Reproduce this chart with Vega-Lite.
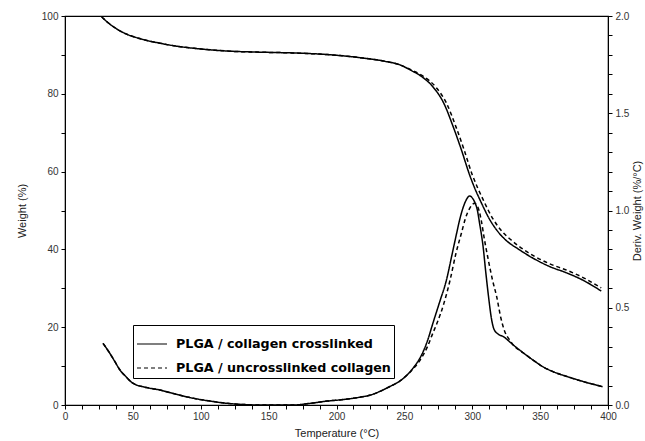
{
  "$schema": "https://vega.github.io/schema/vega-lite/v6.json",
  "width": 543,
  "height": 389,
  "autosize": {"type": "none"},
  "padding": {"left": 65, "top": 16, "right": 37, "bottom": 36},
  "background": "white",
  "config": {
    "view": {"stroke": "black", "strokeWidth": 1.2},
    "axis": {
      "grid": false,
      "domainColor": "black",
      "tickColor": "black",
      "labelFont": "Liberation Sans",
      "labelFontSize": 10,
      "labelColor": "#333",
      "titleFont": "Liberation Sans",
      "titleFontSize": 11,
      "titleFontWeight": "normal",
      "titleColor": "#222",
      "tickSize": 4
    }
  },
  "datasets": {
    "weight": [
      {"series": "PLGA / collagen crosslinked", "T": 27, "W": 99.8},
      {"series": "PLGA / collagen crosslinked", "T": 32, "W": 98.2},
      {"series": "PLGA / collagen crosslinked", "T": 38, "W": 96.7},
      {"series": "PLGA / collagen crosslinked", "T": 45, "W": 95.4},
      {"series": "PLGA / collagen crosslinked", "T": 55, "W": 94.2},
      {"series": "PLGA / collagen crosslinked", "T": 70, "W": 93.0},
      {"series": "PLGA / collagen crosslinked", "T": 85, "W": 92.1},
      {"series": "PLGA / collagen crosslinked", "T": 95, "W": 91.7},
      {"series": "PLGA / collagen crosslinked", "T": 119, "W": 91.0},
      {"series": "PLGA / collagen crosslinked", "T": 144, "W": 90.7},
      {"series": "PLGA / collagen crosslinked", "T": 168, "W": 90.5},
      {"series": "PLGA / collagen crosslinked", "T": 193, "W": 90.1},
      {"series": "PLGA / collagen crosslinked", "T": 217, "W": 89.3},
      {"series": "PLGA / collagen crosslinked", "T": 235, "W": 88.4},
      {"series": "PLGA / collagen crosslinked", "T": 247, "W": 87.4},
      {"series": "PLGA / collagen crosslinked", "T": 255, "W": 86.0},
      {"series": "PLGA / collagen crosslinked", "T": 262, "W": 84.6},
      {"series": "PLGA / collagen crosslinked", "T": 271, "W": 81.8},
      {"series": "PLGA / collagen crosslinked", "T": 279, "W": 77.6},
      {"series": "PLGA / collagen crosslinked", "T": 286, "W": 71.5},
      {"series": "PLGA / collagen crosslinked", "T": 292, "W": 65.6},
      {"series": "PLGA / collagen crosslinked", "T": 298, "W": 59.2},
      {"series": "PLGA / collagen crosslinked", "T": 302, "W": 55.6},
      {"series": "PLGA / collagen crosslinked", "T": 306, "W": 52.5},
      {"series": "PLGA / collagen crosslinked", "T": 313, "W": 47.6},
      {"series": "PLGA / collagen crosslinked", "T": 320, "W": 44.1},
      {"series": "PLGA / collagen crosslinked", "T": 326, "W": 42.0},
      {"series": "PLGA / collagen crosslinked", "T": 333, "W": 40.3},
      {"series": "PLGA / collagen crosslinked", "T": 345, "W": 37.7},
      {"series": "PLGA / collagen crosslinked", "T": 357, "W": 35.6},
      {"series": "PLGA / collagen crosslinked", "T": 370, "W": 33.9},
      {"series": "PLGA / collagen crosslinked", "T": 382, "W": 32.0},
      {"series": "PLGA / collagen crosslinked", "T": 395, "W": 29.3},
      {"series": "PLGA / uncrosslinked collagen", "T": 27, "W": 99.8},
      {"series": "PLGA / uncrosslinked collagen", "T": 32, "W": 98.2},
      {"series": "PLGA / uncrosslinked collagen", "T": 38, "W": 96.7},
      {"series": "PLGA / uncrosslinked collagen", "T": 45, "W": 95.4},
      {"series": "PLGA / uncrosslinked collagen", "T": 55, "W": 94.2},
      {"series": "PLGA / uncrosslinked collagen", "T": 70, "W": 93.0},
      {"series": "PLGA / uncrosslinked collagen", "T": 85, "W": 92.1},
      {"series": "PLGA / uncrosslinked collagen", "T": 95, "W": 91.7},
      {"series": "PLGA / uncrosslinked collagen", "T": 119, "W": 91.0},
      {"series": "PLGA / uncrosslinked collagen", "T": 144, "W": 90.7},
      {"series": "PLGA / uncrosslinked collagen", "T": 168, "W": 90.5},
      {"series": "PLGA / uncrosslinked collagen", "T": 193, "W": 90.1},
      {"series": "PLGA / uncrosslinked collagen", "T": 217, "W": 89.3},
      {"series": "PLGA / uncrosslinked collagen", "T": 235, "W": 88.4},
      {"series": "PLGA / uncrosslinked collagen", "T": 247, "W": 87.4},
      {"series": "PLGA / uncrosslinked collagen", "T": 256, "W": 86.0},
      {"series": "PLGA / uncrosslinked collagen", "T": 263.5, "W": 84.6},
      {"series": "PLGA / uncrosslinked collagen", "T": 273, "W": 81.8},
      {"series": "PLGA / uncrosslinked collagen", "T": 281, "W": 77.6},
      {"series": "PLGA / uncrosslinked collagen", "T": 288, "W": 71.5},
      {"series": "PLGA / uncrosslinked collagen", "T": 294, "W": 65.6},
      {"series": "PLGA / uncrosslinked collagen", "T": 300, "W": 59.2},
      {"series": "PLGA / uncrosslinked collagen", "T": 304, "W": 55.8},
      {"series": "PLGA / uncrosslinked collagen", "T": 308, "W": 52.8},
      {"series": "PLGA / uncrosslinked collagen", "T": 315, "W": 48.0},
      {"series": "PLGA / uncrosslinked collagen", "T": 322, "W": 44.6},
      {"series": "PLGA / uncrosslinked collagen", "T": 328, "W": 42.6},
      {"series": "PLGA / uncrosslinked collagen", "T": 334, "W": 40.9},
      {"series": "PLGA / uncrosslinked collagen", "T": 345, "W": 38.4},
      {"series": "PLGA / uncrosslinked collagen", "T": 357, "W": 36.3},
      {"series": "PLGA / uncrosslinked collagen", "T": 370, "W": 34.6},
      {"series": "PLGA / uncrosslinked collagen", "T": 382, "W": 32.7},
      {"series": "PLGA / uncrosslinked collagen", "T": 395, "W": 30.1}
    ],
    "deriv": [
      {"series": "PLGA / collagen crosslinked", "T": 28, "D": 0.317},
      {"series": "PLGA / collagen crosslinked", "T": 33, "D": 0.266},
      {"series": "PLGA / collagen crosslinked", "T": 37, "D": 0.22},
      {"series": "PLGA / collagen crosslinked", "T": 40.5, "D": 0.18},
      {"series": "PLGA / collagen crosslinked", "T": 45, "D": 0.145},
      {"series": "PLGA / collagen crosslinked", "T": 50, "D": 0.112},
      {"series": "PLGA / collagen crosslinked", "T": 60, "D": 0.09},
      {"series": "PLGA / collagen crosslinked", "T": 70, "D": 0.077},
      {"series": "PLGA / collagen crosslinked", "T": 82, "D": 0.055},
      {"series": "PLGA / collagen crosslinked", "T": 95, "D": 0.034},
      {"series": "PLGA / collagen crosslinked", "T": 107, "D": 0.02},
      {"series": "PLGA / collagen crosslinked", "T": 119, "D": 0.009},
      {"series": "PLGA / collagen crosslinked", "T": 130, "D": 0.003},
      {"series": "PLGA / collagen crosslinked", "T": 144, "D": 0.0},
      {"series": "PLGA / collagen crosslinked", "T": 168, "D": 0.0},
      {"series": "PLGA / collagen crosslinked", "T": 180, "D": 0.008},
      {"series": "PLGA / collagen crosslinked", "T": 193, "D": 0.02},
      {"series": "PLGA / collagen crosslinked", "T": 205, "D": 0.028},
      {"series": "PLGA / collagen crosslinked", "T": 217, "D": 0.04},
      {"series": "PLGA / collagen crosslinked", "T": 225, "D": 0.051},
      {"series": "PLGA / collagen crosslinked", "T": 232, "D": 0.07},
      {"series": "PLGA / collagen crosslinked", "T": 239, "D": 0.094},
      {"series": "PLGA / collagen crosslinked", "T": 246, "D": 0.12},
      {"series": "PLGA / collagen crosslinked", "T": 252, "D": 0.154},
      {"series": "PLGA / collagen crosslinked", "T": 257, "D": 0.195},
      {"series": "PLGA / collagen crosslinked", "T": 262, "D": 0.248},
      {"series": "PLGA / collagen crosslinked", "T": 267, "D": 0.33},
      {"series": "PLGA / collagen crosslinked", "T": 271, "D": 0.42},
      {"series": "PLGA / collagen crosslinked", "T": 276, "D": 0.53},
      {"series": "PLGA / collagen crosslinked", "T": 281, "D": 0.643},
      {"series": "PLGA / collagen crosslinked", "T": 285, "D": 0.77},
      {"series": "PLGA / collagen crosslinked", "T": 288.5, "D": 0.883},
      {"series": "PLGA / collagen crosslinked", "T": 291, "D": 0.96},
      {"series": "PLGA / collagen crosslinked", "T": 293.5, "D": 1.02},
      {"series": "PLGA / collagen crosslinked", "T": 296, "D": 1.06},
      {"series": "PLGA / collagen crosslinked", "T": 298, "D": 1.075},
      {"series": "PLGA / collagen crosslinked", "T": 300, "D": 1.065},
      {"series": "PLGA / collagen crosslinked", "T": 302, "D": 1.04},
      {"series": "PLGA / collagen crosslinked", "T": 303.5, "D": 1.01},
      {"series": "PLGA / collagen crosslinked", "T": 305.5, "D": 0.93},
      {"series": "PLGA / collagen crosslinked", "T": 308, "D": 0.814},
      {"series": "PLGA / collagen crosslinked", "T": 310, "D": 0.68},
      {"series": "PLGA / collagen crosslinked", "T": 312, "D": 0.557},
      {"series": "PLGA / collagen crosslinked", "T": 314, "D": 0.45},
      {"series": "PLGA / collagen crosslinked", "T": 316, "D": 0.39},
      {"series": "PLGA / collagen crosslinked", "T": 319, "D": 0.365},
      {"series": "PLGA / collagen crosslinked", "T": 323, "D": 0.351},
      {"series": "PLGA / collagen crosslinked", "T": 330, "D": 0.31},
      {"series": "PLGA / collagen crosslinked", "T": 338, "D": 0.266},
      {"series": "PLGA / collagen crosslinked", "T": 345, "D": 0.23},
      {"series": "PLGA / collagen crosslinked", "T": 352, "D": 0.197},
      {"series": "PLGA / collagen crosslinked", "T": 360, "D": 0.17},
      {"series": "PLGA / collagen crosslinked", "T": 370, "D": 0.146},
      {"series": "PLGA / collagen crosslinked", "T": 382, "D": 0.12},
      {"series": "PLGA / collagen crosslinked", "T": 390, "D": 0.105},
      {"series": "PLGA / collagen crosslinked", "T": 396, "D": 0.094},
      {"series": "PLGA / uncrosslinked collagen", "T": 28, "D": 0.317},
      {"series": "PLGA / uncrosslinked collagen", "T": 33, "D": 0.266},
      {"series": "PLGA / uncrosslinked collagen", "T": 37, "D": 0.22},
      {"series": "PLGA / uncrosslinked collagen", "T": 40.5, "D": 0.18},
      {"series": "PLGA / uncrosslinked collagen", "T": 45, "D": 0.145},
      {"series": "PLGA / uncrosslinked collagen", "T": 50, "D": 0.112},
      {"series": "PLGA / uncrosslinked collagen", "T": 60, "D": 0.09},
      {"series": "PLGA / uncrosslinked collagen", "T": 70, "D": 0.077},
      {"series": "PLGA / uncrosslinked collagen", "T": 82, "D": 0.055},
      {"series": "PLGA / uncrosslinked collagen", "T": 95, "D": 0.034},
      {"series": "PLGA / uncrosslinked collagen", "T": 107, "D": 0.02},
      {"series": "PLGA / uncrosslinked collagen", "T": 119, "D": 0.009},
      {"series": "PLGA / uncrosslinked collagen", "T": 130, "D": 0.003},
      {"series": "PLGA / uncrosslinked collagen", "T": 144, "D": 0.0},
      {"series": "PLGA / uncrosslinked collagen", "T": 168, "D": 0.0},
      {"series": "PLGA / uncrosslinked collagen", "T": 180, "D": 0.008},
      {"series": "PLGA / uncrosslinked collagen", "T": 193, "D": 0.02},
      {"series": "PLGA / uncrosslinked collagen", "T": 205, "D": 0.028},
      {"series": "PLGA / uncrosslinked collagen", "T": 217, "D": 0.04},
      {"series": "PLGA / uncrosslinked collagen", "T": 225, "D": 0.051},
      {"series": "PLGA / uncrosslinked collagen", "T": 232, "D": 0.07},
      {"series": "PLGA / uncrosslinked collagen", "T": 239, "D": 0.094},
      {"series": "PLGA / uncrosslinked collagen", "T": 246, "D": 0.12},
      {"series": "PLGA / uncrosslinked collagen", "T": 252, "D": 0.154},
      {"series": "PLGA / uncrosslinked collagen", "T": 257, "D": 0.19},
      {"series": "PLGA / uncrosslinked collagen", "T": 262, "D": 0.235},
      {"series": "PLGA / uncrosslinked collagen", "T": 267, "D": 0.30},
      {"series": "PLGA / uncrosslinked collagen", "T": 271, "D": 0.37},
      {"series": "PLGA / uncrosslinked collagen", "T": 274, "D": 0.42},
      {"series": "PLGA / uncrosslinked collagen", "T": 279, "D": 0.52},
      {"series": "PLGA / uncrosslinked collagen", "T": 283.7, "D": 0.643},
      {"series": "PLGA / uncrosslinked collagen", "T": 288, "D": 0.78},
      {"series": "PLGA / uncrosslinked collagen", "T": 292, "D": 0.883},
      {"series": "PLGA / uncrosslinked collagen", "T": 295, "D": 0.96},
      {"series": "PLGA / uncrosslinked collagen", "T": 298, "D": 1.01},
      {"series": "PLGA / uncrosslinked collagen", "T": 300, "D": 1.03},
      {"series": "PLGA / uncrosslinked collagen", "T": 301.5, "D": 1.037},
      {"series": "PLGA / uncrosslinked collagen", "T": 303, "D": 1.03},
      {"series": "PLGA / uncrosslinked collagen", "T": 305, "D": 1.0},
      {"series": "PLGA / uncrosslinked collagen", "T": 306.6, "D": 0.95},
      {"series": "PLGA / uncrosslinked collagen", "T": 309, "D": 0.85},
      {"series": "PLGA / uncrosslinked collagen", "T": 312, "D": 0.74},
      {"series": "PLGA / uncrosslinked collagen", "T": 315, "D": 0.64},
      {"series": "PLGA / uncrosslinked collagen", "T": 318, "D": 0.557},
      {"series": "PLGA / uncrosslinked collagen", "T": 321, "D": 0.45},
      {"series": "PLGA / uncrosslinked collagen", "T": 324, "D": 0.377},
      {"series": "PLGA / uncrosslinked collagen", "T": 327, "D": 0.34},
      {"series": "PLGA / uncrosslinked collagen", "T": 330, "D": 0.31},
      {"series": "PLGA / uncrosslinked collagen", "T": 338, "D": 0.266},
      {"series": "PLGA / uncrosslinked collagen", "T": 345, "D": 0.23},
      {"series": "PLGA / uncrosslinked collagen", "T": 352, "D": 0.197},
      {"series": "PLGA / uncrosslinked collagen", "T": 360, "D": 0.17},
      {"series": "PLGA / uncrosslinked collagen", "T": 370, "D": 0.146},
      {"series": "PLGA / uncrosslinked collagen", "T": 382, "D": 0.12},
      {"series": "PLGA / uncrosslinked collagen", "T": 390, "D": 0.105},
      {"series": "PLGA / uncrosslinked collagen", "T": 396, "D": 0.094}
    ]
  },
  "encoding": {
    "x": {
      "field": "T",
      "type": "quantitative",
      "scale": {"domain": [0, 400], "nice": false},
      "axis": {
        "title": "Temperature (°C)",
        "values": [0, 12.5, 25, 37.5, 50, 62.5, 75, 87.5, 100, 112.5, 125, 137.5, 150, 162.5, 175, 187.5, 200, 212.5, 225, 237.5, 250, 262.5, 275, 287.5, 300, 312.5, 325, 337.5, 350, 362.5, 375, 387.5, 400],
        "labelExpr": "datum.value % 50 == 0 ? format(datum.value, 'd') : ''",
        "labelPadding": 2,
        "titlePadding": 6,
        "labelFlush": false,
        "labelOverlap": false
      }
    },
    "strokeDash": {
      "field": "series",
      "type": "nominal",
      "scale": {
        "domain": ["PLGA / collagen crosslinked", "PLGA / uncrosslinked collagen"],
        "range": [[1, 0], [4, 3]]
      },
      "legend": {
        "title": null,
        "orient": "none",
        "legendX": 68,
        "legendY": 309,
        "strokeColor": "black",
        "fillColor": "white",
        "padding": 3,
        "rowPadding": 1,
        "symbolType": "stroke",
        "symbolSize": 900,
        "symbolStrokeColor": "black",
        "symbolStrokeWidth": 1.2,
        "labelFont": "DejaVu Sans",
        "labelFontSize": 12.7,
        "labelFontWeight": "bold",
        "labelColor": "black",
        "labelLimit": 400,
        "labelOffset": 8,
        "symbolOffset": 0
      }
    }
  },
  "layer": [
    {
      "data": {"name": "weight"},
      "mark": {"type": "line", "color": "black", "strokeWidth": 1.5, "interpolate": "monotone"},
      "encoding": {
        "y": {
          "field": "W",
          "type": "quantitative",
          "scale": {"domain": [0, 100], "nice": false},
          "axis": {
            "title": "Weight (%)",
            "orient": "left",
            "values": [0, 10, 20, 30, 40, 50, 60, 70, 80, 90, 100],
            "labelExpr": "datum.value % 20 == 0 ? format(datum.value, 'd') : ''",
            "titlePadding": 14,
            "labelPadding": 3,
            "labelOverlap": false
          }
        }
      }
    },
    {
      "data": {"name": "deriv"},
      "mark": {"type": "line", "color": "black", "strokeWidth": 1.5, "interpolate": "monotone"},
      "encoding": {
        "y": {
          "field": "D",
          "type": "quantitative",
          "scale": {"domain": [0, 2], "nice": false},
          "axis": {
            "title": "Deriv. Weight (%/°C)",
            "orient": "right",
            "values": [0, 0.1, 0.2, 0.3, 0.4, 0.5, 0.6, 0.7, 0.8, 0.9, 1.0, 1.1, 1.2, 1.3, 1.4, 1.5, 1.6, 1.7, 1.8, 1.9, 2.0],
            "labelExpr": "abs(datum.value * 2 - round(datum.value * 2)) < 0.001 ? format(datum.value, '.1f') : ''",
            "titleAngle": 270,
            "titlePadding": 14,
            "labelPadding": 3,
            "labelOverlap": false
          }
        }
      }
    }
  ],
  "resolve": {"scale": {"y": "independent"}}
}
